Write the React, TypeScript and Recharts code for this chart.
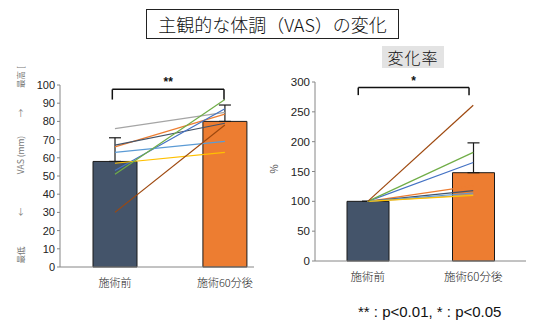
import React from 'react';
import {
  ComposedChart,
  Bar,
  Cell,
  ErrorBar,
  Line,
  XAxis,
  YAxis,
  ReferenceLine,
  ReferenceDot,
} from 'recharts';

// groups on the x axis
const groups = ['施術前', '施術60分後'];

// VAS (mm): mean, upper SD, individual subjects
const vasMean = [58, 80];
const vasErr = [13, 9];
const vasLines = [
  [76, 85],
  [66, 84],
  [67, 79],
  [53, 87],
  [63, 69],
  [57, 63],
  [51, 92],
  [30, 78],
];
const vasTicks = [0, 10, 20, 30, 40, 50, 60, 70, 80, 90, 100];

// change rate (%)
const rateMean = [100, 148];
const rateErr = [0, 50];
const rateLines = [
  [100, 111],
  [100, 126],
  [100, 118],
  [100, 165],
  [100, 114],
  [100, 110],
  [100, 182],
  [100, 261],
];
const rateTicks = [0, 50, 100, 150, 200, 250, 300];

const barColors = ['#44546A', '#ED7D31'];
const lineColors = ['#A5A5A5', '#ED7D31', '#44546A', '#4472C4', '#5B9BD5', '#FFC000', '#70AD47', '#9E480E'];

const FONT = '"Liberation Sans", Arial, "Noto Sans CJK JP", sans-serif';
const JP = '"Noto Sans CJK JP", "Liberation Sans", sans-serif';
const AXIS = '#868686';

function buildRows(mean: number[], err: number[], lines: number[][]) {
  return groups.map((g, i) => {
    const row: Record<string, any> = { x: i + 0.5, name: g, mean: mean[i], err: [0, err[i]] };
    lines.forEach((l, k) => {
      row[`s${k}`] = l[i];
    });
    return row;
  });
}

interface PanelProps {
  rows: Record<string, any>[];
  nLines: number;
  width: number;
  height: number;
  margin: { top: number; right: number; bottom: number; left: number };
  xMax: number;
  yMax: number;
  yTicks: number[];
  barSize: number;
  fontSize: number;
  bracketX: [number, number];
  bracketY: [number, number];
  star: string;
}

function Panel(p: PanelProps) {
  const [bx0, bx1] = p.bracketX;
  const [foot, top] = p.bracketY;
  const mid = (bx0 + bx1) / 2;
  return (
    <ComposedChart width={p.width} height={p.height} data={p.rows} margin={p.margin}>
      <XAxis
        type="number"
        dataKey="x"
        domain={[0, p.xMax]}
        ticks={[0.5, 1.5]}
        tickFormatter={(v: number) => groups[Math.round(v - 0.5)]}
        height={30}
        tickSize={0}
        tickMargin={12}
        stroke={AXIS}
        tick={{ fill: '#222', fontSize: p.fontSize, fontFamily: JP, fontWeight: 300 }}
        allowDataOverflow
      />
      <YAxis
        type="number"
        domain={[0, p.yMax]}
        ticks={p.yTicks}
        width={40}
        tickSize={3}
        tickMargin={2}
        stroke={AXIS}
        tick={{ fill: '#222', fontSize: p.fontSize, fontFamily: FONT }}
        interval={0}
      />
      <Bar dataKey="mean" barSize={p.barSize} stroke="#1a1a1a" strokeWidth={1} isAnimationActive={false}>
        {p.rows.map((_, i) => (
          <Cell key={i} fill={barColors[i]} />
        ))}
        <ErrorBar dataKey="err" width={6} stroke="#1a1a1a" strokeWidth={1.2} direction="y" />
      </Bar>
      {Array.from({ length: p.nLines }).map((_, k) => (
        <Line
          key={k}
          type="linear"
          dataKey={`s${k}`}
          stroke={lineColors[k]}
          strokeWidth={1.2}
          dot={false}
          activeDot={false}
          isAnimationActive={false}
        />
      ))}
      <ReferenceLine segment={[{ x: bx0, y: top }, { x: bx1, y: top }]} stroke="#111" strokeWidth={1.5} ifOverflow="visible" />
      <ReferenceLine segment={[{ x: bx0, y: foot }, { x: bx0, y: top }]} stroke="#111" strokeWidth={1.5} ifOverflow="visible" />
      <ReferenceLine segment={[{ x: bx1, y: foot }, { x: bx1, y: top }]} stroke="#111" strokeWidth={1.5} ifOverflow="visible" />
      <ReferenceDot
        x={mid}
        y={top}
        r={0}
        fill="none"
        stroke="none"
        ifOverflow="visible"
        label={{ value: p.star, position: 'top', offset: 3, fontSize: 12, fill: '#111', fontFamily: FONT, fontWeight: 'bold' }}
      />
    </ComposedChart>
  );
}

function VLabel({ text, x, y, size, color }: { text: string; x: number; y: number; size: number; color: string }) {
  return (
    <div
      style={{
        position: 'absolute',
        left: x,
        top: y,
        transform: 'translate(-50%, -50%) rotate(-90deg)',
        whiteSpace: 'nowrap',
        fontSize: size,
        color,
        fontFamily: JP,
        lineHeight: 1,
      }}
    >
      {text}
    </div>
  );
}

export default function App() {
  const vasRows = buildRows(vasMean, vasErr, vasLines);
  const rateRows = buildRows(rateMean, rateErr, rateLines);
  return (
    <div style={{ position: 'absolute', left: 0, top: 0, width: 540, height: 333, background: '#fff', overflow: 'hidden' }}>
      <div
        style={{
          position: 'absolute',
          left: 146,
          top: 9,
          width: 251,
          height: 28,
          border: '1px solid #222',
          fontFamily: JP,
          fontSize: 18,
          fontWeight: 300,
          lineHeight: '28px',
          textAlign: 'center',
          color: '#111',
        }}
      >
        主観的な体調（VAS）の変化
      </div>
      <div
        style={{
          position: 'absolute',
          left: 382,
          top: 46,
          width: 62,
          height: 22,
          background: '#E3E3E3',
          fontFamily: JP,
          fontSize: 16,
          fontWeight: 300,
          lineHeight: '23px',
          textAlign: 'center',
          color: '#111',
          letterSpacing: 1,
        }}
      >
        変化率
      </div>

      <div style={{ position: 'absolute', left: 0, top: 0 }}>
        <Panel
          rows={vasRows}
          nLines={vasLines.length}
          width={270}
          height={333}
          margin={{ top: 85, right: 16, bottom: 36, left: 20 }}
          xMax={1.765}
          yMax={100}
          yTicks={vasTicks}
          barSize={44}
          fontSize={11}
          bracketX={[0.476, 1.492]}
          bracketY={[92, 97.6]}
          star="**"
        />
      </div>
      <div style={{ position: 'absolute', left: 270, top: 0 }}>
        <Panel
          rows={rateRows}
          nLines={rateLines.length}
          width={270}
          height={333}
          margin={{ top: 82, right: 14, bottom: 42, left: 5 }}
          xMax={2}
          yMax={300}
          yTicks={rateTicks}
          barSize={42}
          fontSize={11.5}
          bracketX={[0.41, 1.46]}
          bracketY={[278, 290.6]}
          star="*"
        />
      </div>

      <VLabel text="最高 [" x={20} y={77} size={8.5} color="#777" />
      <VLabel text="→" x={20} y={113} size={8.5} color="#777" />
      <VLabel text="VAS (mm)" x={20} y={155} size={8.5} color="#777" />
      <VLabel text="←" x={20} y={212} size={8.5} color="#777" />
      <VLabel text="最低" x={20} y={255} size={8.5} color="#777" />
      <VLabel text="%" x={274} y={169} size={10} color="#555" />

      <div
        style={{
          position: 'absolute',
          left: 358,
          top: 303,
          fontFamily: FONT,
          fontSize: 15,
          lineHeight: '18px',
          color: '#111',
          whiteSpace: 'nowrap',
        }}
      >
        ** : p&lt;0.01, * : p&lt;0.05
      </div>
    </div>
  );
}
